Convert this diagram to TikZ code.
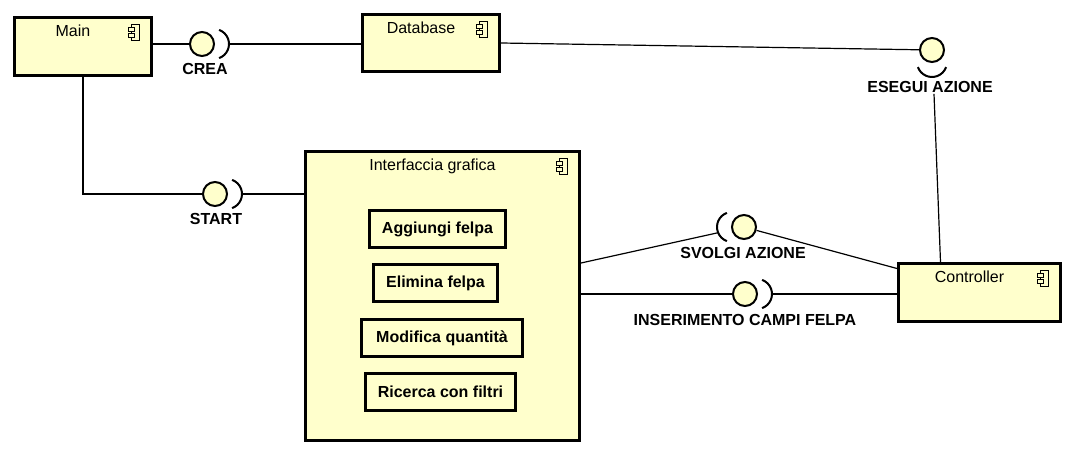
\documentclass[tikz,border=0pt]{standalone}
\usepackage{fontspec}
\setmainfont{Liberation Sans}
\definecolor{compfill}{RGB}{255,255,204}
\begin{document}
\begin{tikzpicture}[x=1pt,y=-1pt,
  comp/.style={draw,line width=3pt,fill=compfill,inner sep=0pt},
  title/.style={anchor=north,inner sep=0pt,font=\fontsize{16}{19}\selectfont},
  btn/.style={draw,line width=3pt,fill=compfill,minimum height=37pt,inner sep=0pt,font=\bfseries\fontsize{16}{19}\selectfont},
  ball/.style={circle,draw,line width=2pt,fill=compfill,minimum size=24pt,inner sep=0pt},
  sock/.style={line width=2pt},
  lbl/.style={inner sep=1pt,font=\bfseries\fontsize{16}{19}\selectfont},
  conn/.style={line width=1.2pt},
  compicon/.pic={
    \draw[line width=1pt] (-3,-8) rectangle (5,8);
    \draw[line width=1pt,fill=compfill] (-6,-5) rectangle (0,-1) (-6,1) rectangle (0,5);
  }]
  \useasboundingbox[fill=white] (0,0) rectangle (1074,454);

  %components
  \node[comp,minimum width=137pt,minimum height=58pt] (main) at (83,46.5) {};
  \node[comp,minimum width=137pt,minimum height=57pt] (db) at (431,43) {};
  \node[comp,minimum width=274pt,minimum height=289pt] (gui) at (442.5,296) {};
  \node[comp,minimum width=162pt,minimum height=58pt] (ctrl) at (979.5,292.5) {};
  \foreach \c/\t in {main/Main,db/Database,gui/Interfaccia grafica,ctrl/Controller}{
    \node[title] at ([xshift=-10pt,yshift=-9pt]\c.north) {\t};
    \pic at ([xshift=-19pt,yshift=-17pt]\c.north east) {compicon};
  }

  %buttons
  \node[btn,minimum width=136pt] (add) at (437.5,229) {Aggiungi felpa};
  \node[btn,minimum width=124pt] (del) at (435.5,283) {Elimina felpa};
  \node[btn,minimum width=161pt] (mod) at (442,338) {Modifica quantità};
  \node[btn,minimum width=150pt] (search) at (440.5,392) {Ricerca con filtri};

  %interfaces
  \node[ball] (crea) at (202,44) {};
  \node[ball] (start) at (215,194) {};
  \node[ball] (esegui) at (932,50) {};
  \node[ball] (svolgi) at (744,227) {};
  \node[ball] (inser) at (745,294) {};
  \draw[sock] ([xshift=12pt]crea.center) ++(-70:15pt) arc (-70:70:15pt);
  \draw[sock] ([xshift=12pt]start.center) ++(-70:15pt) arc (-70:70:15pt);
  \draw[sock] ([yshift=-12pt]esegui.center) ++(-160:15pt) arc (-160:-20:15pt);
  \draw[sock] ([xshift=-12pt]svolgi.center) ++(110:15pt) arc (110:250:15pt);
  \draw[sock] ([xshift=12pt]inser.center) ++(-70:15pt) arc (-70:70:15pt);

  %labels
  \node[lbl] (crealbl) at (205,69) {CREA};
  \node[lbl] (startlbl) at (216,219) {START};
  \node[lbl] (eseguilbl) at (930,87) {ESEGUI AZIONE};
  \node[lbl] (svolgilbl) at (743,253) {SVOLGI AZIONE};
  \node[lbl] (inserlbl) at (745,320) {INSERIMENTO CAMPI FELPA};

  %links
  \draw[conn] (crea -| main.east) -- (crea);
  \draw[conn,shorten <=14pt] (crea) -- (crea -| db.west);
  \draw[conn] (db.east) -- (esegui);
  \draw[conn] ([xshift=4pt]eseguilbl.south) -- ([xshift=-39pt]ctrl.north);
  \draw[conn] (main.south) |- (start);
  \draw[conn,shorten <=14pt] (start) -- (start -| gui.west);
  \draw[conn,shorten >=13pt] ([yshift=33pt]gui.east) -- (svolgi);
  \draw[conn] (svolgi) -- ([yshift=24pt]ctrl.west);
  \draw[conn] (inser -| gui.east) -- (inser);
  \draw[conn,shorten <=14pt] (inser) -- (inser -| ctrl.west);
\end{tikzpicture}
\end{document}
